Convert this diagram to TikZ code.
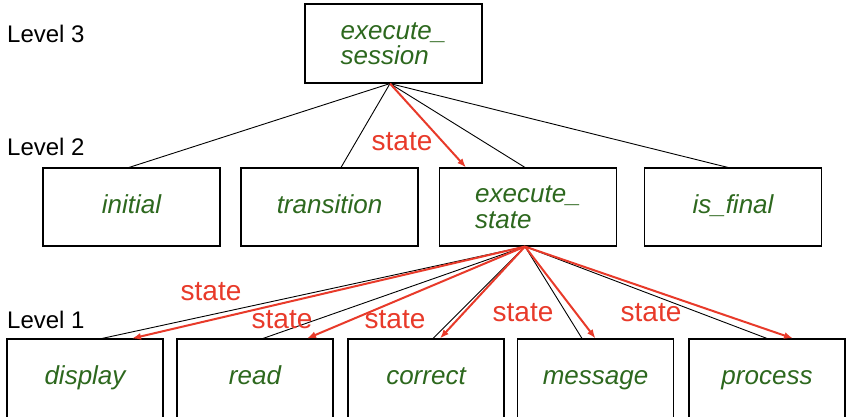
\documentclass[tikz,border=0pt]{standalone}
\usepackage{fontspec}
\setmainfont{Liberation Sans}
\usetikzlibrary{arrows.meta,positioning,calc}
\definecolor{fngreen}{RGB}{45,104,30}
\definecolor{flowred}{RGB}{232,58,42}
\tikzset{
  fnbox/.style={draw, line width=1.1pt, minimum width=177pt, minimum height=78pt,
    inner sep=0pt, text=fngreen, align=left,
    font=\fontsize{26}{25.5}\selectfont\itshape},
  onebox/.style={fnbox, text height=18pt, text depth=6pt},
  leafbox/.style={onebox, minimum width=156pt, minimum height=79pt},
  call/.style={line width=0.9pt},
  flow/.style={draw=flowred, line width=2pt, -{Latex[length=9pt,width=7pt]}},
  statelbl/.style={text=flowred, inner sep=0pt, font=\fontsize{28}{30}\selectfont},
  levellbl/.style={anchor=west, inner sep=0pt, font=\fontsize{24}{26}\selectfont}
}

\begin{document}
\begin{tikzpicture}[x=1pt,y=-1pt]
\useasboundingbox (0,0) rectangle (846,416);

\node[levellbl] (lev3) at (7,33.5) {Level 3};
\node[levellbl] (lev2) at (7,147) {Level 2};
\node[levellbl] (lev1) at (7,319.5) {Level 1};

\node[fnbox, minimum height=79pt] (session) at (393.5,43.5) {execute\_\\session};

\node[onebox] (initial) at (131.5,207) {initial};
\node[onebox] (transition) at (329.5,207) {transition};
\node[fnbox] (exstate) at (528,207) {execute\_\\state};
\node[onebox] (isfinal) at (733,207) {is\_final};

\node[leafbox] (display) at (85,378.5) {display};
\node[leafbox] (read) at (255,378.5) {read};
\node[leafbox] (correct) at (426,378.5) {correct};
\node[leafbox] (message) at (595.5,378.5) {message};
\node[leafbox] (process) at (767,378.5) {process};

\coordinate (sesbot) at ([xshift=-3.5pt]session.south);
\coordinate (exbot) at ([xshift=-3pt]exstate.south);

% level 3 -> level 2
\draw[call] (sesbot) -- ([xshift=-2.5pt]initial.north);
\draw[call] (sesbot) -- ([xshift=11.5pt]transition.north);
\draw[call] (sesbot) -- ([xshift=-3pt]exstate.north);
\draw[call] (sesbot) -- ([xshift=-5pt]isfinal.north);
\draw[flow] (sesbot) -- ([xshift=-62pt]exstate.north);

% level 2 -> level 1
\draw[call] (exbot) -- ([xshift=17pt]display.north);
\draw[call] (exbot) -- ([xshift=8pt]read.north);
\draw[call] (exbot) -- ([xshift=7pt]correct.north);
\draw[call] (exbot) -- ([xshift=-13.5pt]message.north);
\draw[call] (exbot) -- (process.north);

\draw[flow] (exbot) -- ([xshift=47pt]display.north);
\draw[flow] (exbot) -- ([xshift=52pt]read.north);
\draw[flow] (exbot) -- ([xshift=14pt]correct.north);
\draw[flow] (exbot) -- (message.north);
\draw[flow] (exbot) -- ([xshift=26pt]process.north);

\node[statelbl] (st0) at (402,142) {state};
\node[statelbl] (st1) at (211,292) {state};
\node[statelbl] (st2) at (282,320) {state};
\node[statelbl] (st3) at (395,320) {state};
\node[statelbl] (st4) at (523,313) {state};
\node[statelbl] (st5) at (651,313) {state};

\end{tikzpicture}
\end{document}
